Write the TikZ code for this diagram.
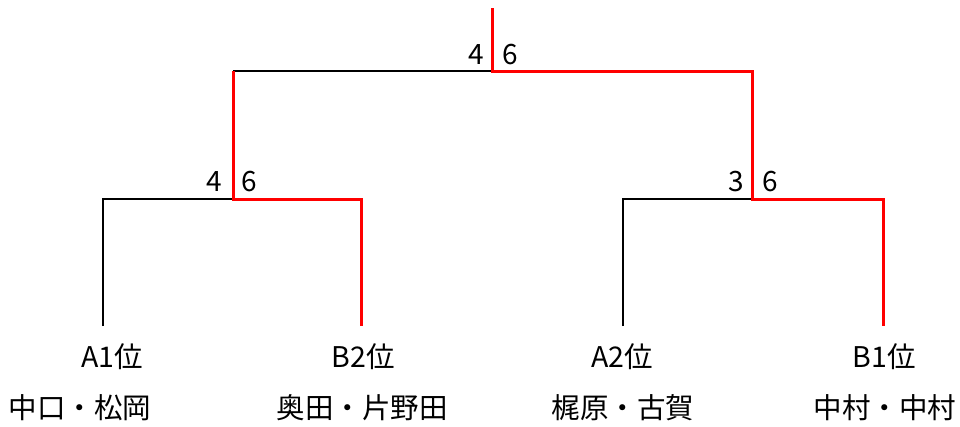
\documentclass[tikz,border=0pt]{standalone}
\usepackage{fontspec}
\setmainfont{Noto Sans CJK JP}
\begin{document}
\begin{tikzpicture}[x=1pt,y=-1pt,
  lose/.style={draw=black,line width=1.2pt},
  win/.style={draw=red,line width=3pt},
  lbl/.style={inner sep=0pt,font=\fontsize{28.5}{32}\selectfont},
  score/.style={inner sep=0pt,font=\fontsize{28}{32}\selectfont}]
\useasboundingbox (0,0) rectangle (960,426);
% junction coordinates
\coordinate (top) at (492,8);
\coordinate (root) at (492,71);
\coordinate (lj) at (233,71);
\coordinate (rj) at (752,71);
\coordinate (lm) at (233,199);
\coordinate (rm) at (752,199);
\coordinate (a1j) at (103,199);
\coordinate (b2j) at (361,199);
\coordinate (a2j) at (623,199);
\coordinate (b1j) at (883,199);
\coordinate (a1) at (103,326);
\coordinate (b2) at (361,326);
\coordinate (a2) at (623,326);
\coordinate (b1) at (883,326);
% losing lines
\draw[lose] (lj) -- (root);
\draw[lose] (a1) -- (a1j) -- (lm);
\draw[lose] (a2) -- (a2j) -- (rm);
% winning lines
\draw[win] (top) -- (root) -- (rj) -- (rm) -- (b1j) -- (b1);
\draw[win] (lj) -- (lm) -- (b2j) -- (b2);
% scores
\node[score] (s1) at (476,55) {4};
\node[score] (s2) at (510,55) {6};
\node[score] (s3) at (214,182) {4};
\node[score] (s4) at (249,182) {6};
\node[score] (s5) at (736,182) {3};
\node[score] (s6) at (770,182) {6};
% labels
\node[lbl] (la1) at (112,357) {A1位};
\node[lbl] (lb2) at (363,357) {B2位};
\node[lbl] (la2) at (622,357) {A2位};
\node[lbl] (lb1) at (884,357) {B1位};
\node[lbl] (na1) at (80,408) {中口・松岡};
\node[lbl] (nb2) at (362,408) {奥田・片野田};
\node[lbl] (na2) at (623,408) {梶原・古賀};
\node[lbl] (nb1) at (885,408) {中村・中村};
\end{tikzpicture}
\end{document}
